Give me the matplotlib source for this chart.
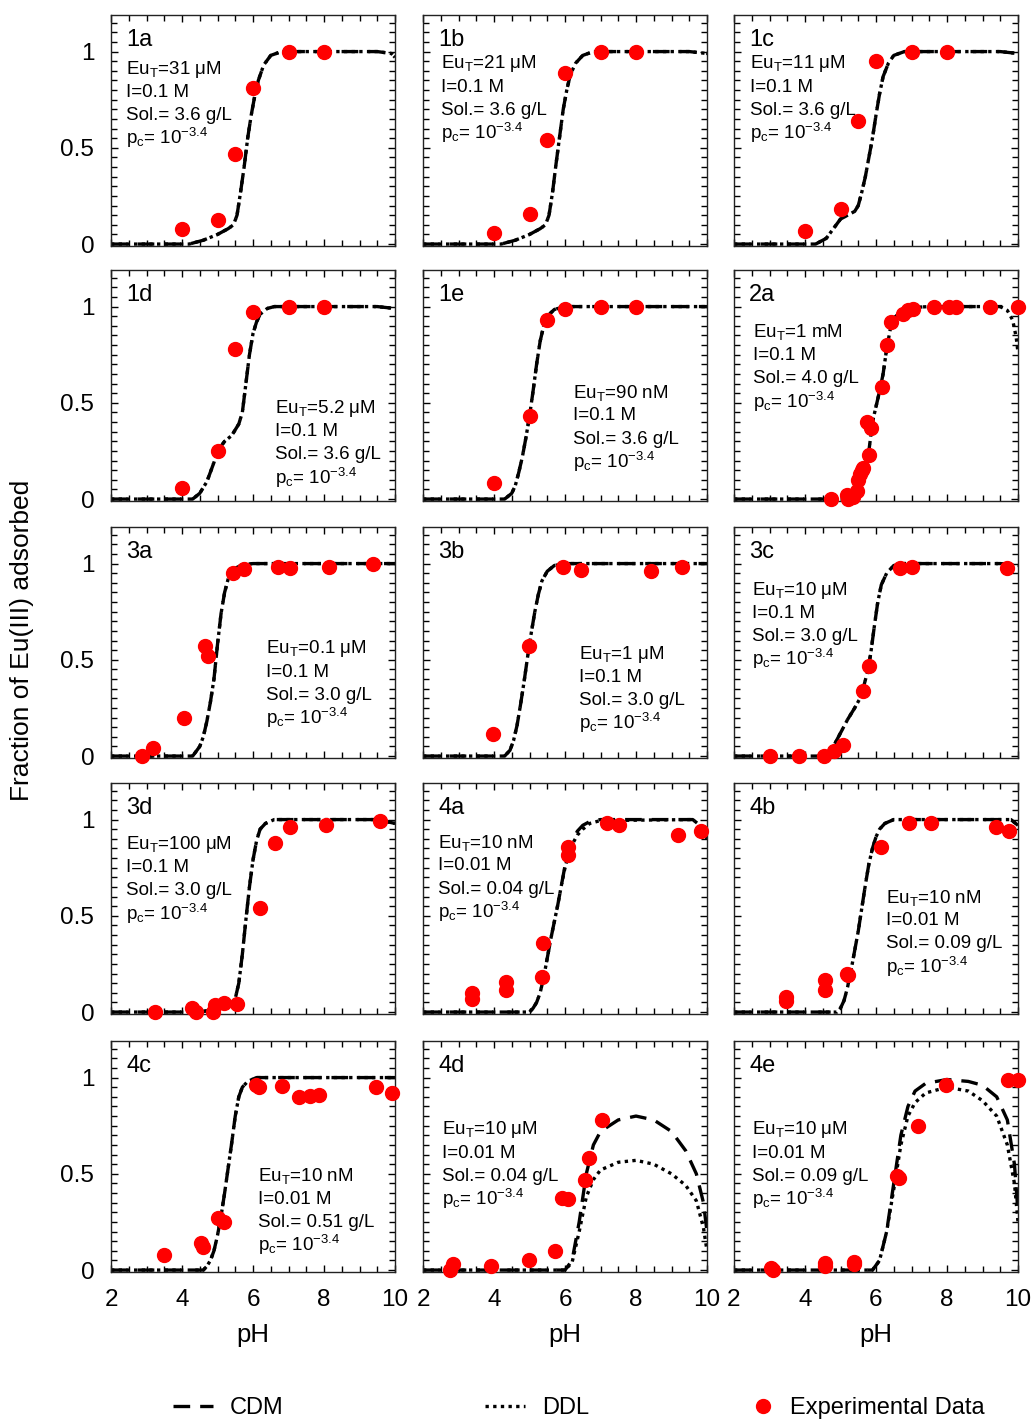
import numpy as np
import matplotlib
matplotlib.use("Agg")
import matplotlib.pyplot as plt
from matplotlib.ticker import MultipleLocator
from matplotlib.lines import Line2D

plt.rcParams['font.family'] = ['Liberation Sans', 'DejaVu Sans']
plt.rcParams['mathtext.default'] = 'regular'

panels = ['1a', '1b', '1c', '1d', '1e', '2a', '3a', '3b', '3c', '3d',
          '4a', '4b', '4c', '4d', '4e']

# experimental data (pH, fraction adsorbed)
exp_ph = {
    '1a': [4.0, 5.0, 5.5, 6.0, 7.0, 8.0],
    '1b': [4.0, 5.0, 5.5, 6.0, 7.0, 8.0],
    '1c': [4.0, 5.0, 5.5, 6.0, 7.0, 8.0],
    '1d': [4.0, 5.0, 5.5, 6.0, 7.0, 8.0],
    '1e': [4.0, 5.0, 5.5, 6.0, 7.0, 8.0],
    '2a': [4.72, 5.17, 5.22, 5.36, 5.46, 5.5, 5.55, 5.6, 5.64, 5.74, 5.79, 5.85,
           6.18, 6.3, 6.43, 6.75, 6.9, 7.05, 7.64, 8.07, 8.25, 9.21, 10.0],
    '3a': [2.86, 3.19, 4.06, 4.65, 4.74, 5.45, 5.75, 6.71, 7.04, 8.14, 9.37],
    '3b': [3.98, 4.99, 5.95, 6.44, 8.42, 9.29],
    '3c': [3.0, 3.84, 4.54, 4.82, 5.08, 5.62, 5.8, 6.68, 7.0, 9.68],
    '3d': [3.24, 4.27, 4.39, 4.86, 4.93, 5.19, 5.56, 6.2, 6.62, 7.04, 8.05, 9.58],
    '4a': [3.37, 3.37, 4.33, 4.33, 5.34, 5.39, 6.09, 6.09, 7.19, 7.53, 9.17, 9.83],
    '4b': [3.46, 3.46, 4.56, 4.56, 5.19, 5.22, 6.13, 6.93, 7.55, 9.38, 9.75],
    '4c': [3.49, 4.54, 4.59, 5.01, 5.18, 6.08, 6.17, 6.82, 7.3, 7.61, 7.86, 9.46, 9.92],
    '4d': [2.75, 2.85, 3.92, 4.99, 5.72, 5.92, 6.08, 6.56, 6.68, 7.04],
    '4e': [3.04, 3.1, 4.56, 4.56, 5.38, 5.38, 6.59, 6.65, 7.18, 7.97, 9.72, 10.0],
}
exp_frac = {
    '1a': [0.08, 0.125, 0.47, 0.81, 1.0, 1.0],
    '1b': [0.056, 0.155, 0.54, 0.89, 1.0, 1.0],
    '1c': [0.07, 0.18, 0.64, 0.95, 1.0, 1.0],
    '1d': [0.057, 0.25, 0.78, 0.97, 1.0, 1.0],
    '1e': [0.085, 0.43, 0.93, 0.99, 1.0, 1.0],
    '2a': [0.0, 0.02, 0.0, 0.01, 0.04, 0.1, 0.13, 0.15, 0.16, 0.4, 0.23, 0.37,
           0.58, 0.8, 0.92, 0.96, 0.98, 0.99, 1.0, 1.0, 1.0, 1.0, 1.0],
    '3a': [0.0, 0.04, 0.2, 0.57, 0.52, 0.95, 0.97, 0.98, 0.975, 0.98, 1.0],
    '3b': [0.115, 0.57, 0.98, 0.965, 0.96, 0.98],
    '3c': [0.0, 0.0, 0.0, 0.025, 0.06, 0.34, 0.47, 0.975, 0.98, 0.975],
    '3d': [0.0, 0.02, 0.0, 0.0, 0.035, 0.045, 0.04, 0.54, 0.88, 0.96, 0.97, 0.99],
    '4a': [0.099, 0.07, 0.155, 0.115, 0.18, 0.36, 0.86, 0.815, 0.98, 0.97, 0.92, 0.94],
    '4b': [0.078, 0.055, 0.165, 0.115, 0.2, 0.19, 0.86, 0.98, 0.98, 0.96, 0.94],
    '4c': [0.078, 0.14, 0.12, 0.27, 0.25, 0.96, 0.95, 0.955, 0.9, 0.905, 0.91, 0.95, 0.92],
    '4d': [0.0, 0.03, 0.02, 0.05, 0.1, 0.375, 0.37, 0.47, 0.58, 0.78],
    '4e': [0.01, 0.0, 0.035, 0.02, 0.04, 0.03, 0.49, 0.48, 0.75, 0.96, 0.985, 0.985],
}

# CDM model curves
cdm_ph = {
    '1a': [2, 4.2, 4.6, 5.0, 5.3, 5.45, 5.55, 5.65, 5.75, 5.85, 5.95, 6.05, 6.15, 6.3, 6.5, 6.8, 7.5, 9.5, 9.9, 10],
    '1b': [2, 4.2, 4.6, 5.0, 5.3, 5.45, 5.55, 5.65, 5.75, 5.85, 5.95, 6.05, 6.15, 6.3, 6.5, 6.8, 7.5, 9.5, 10],
    '1c': [2, 4.3, 4.6, 4.8, 5.0, 5.2, 5.4, 5.5, 5.6, 5.7, 5.8, 5.9, 6.0, 6.1, 6.2, 6.35, 6.5, 6.8, 7.5, 9.5, 10],
    '1d': [2, 4.3, 4.5, 4.7, 4.9, 5.0, 5.2, 5.4, 5.6, 5.7, 5.8, 5.9, 6.0, 6.1, 6.2, 6.4, 6.6, 7.5, 9.5, 10],
    '1e': [2, 4.3, 4.5, 4.6, 4.7, 4.8, 4.9, 5.0, 5.1, 5.2, 5.3, 5.4, 5.5, 5.7, 6.0, 10],
    '2a': [2, 5.2, 5.4, 5.5, 5.6, 5.7, 5.8, 5.9, 6.0, 6.1, 6.2, 6.3, 6.4, 6.5, 6.7, 7.0, 7.5, 9.5, 10],
    '3a': [2, 4.3, 4.5, 4.6, 4.7, 4.8, 4.9, 5.0, 5.1, 5.2, 5.3, 5.45, 5.7, 6.0, 10],
    '3b': [2, 4.3, 4.45, 4.55, 4.65, 4.75, 4.85, 4.95, 5.05, 5.15, 5.25, 5.35, 5.5, 5.7, 6.0, 10],
    '3c': [2, 4.5, 4.7, 4.8, 5.0, 5.2, 5.4, 5.55, 5.65, 5.75, 5.85, 5.95, 6.05, 6.15, 6.3, 6.5, 6.8, 9.5, 10],
    '3d': [2, 4.5, 4.8, 5.1, 5.4, 5.5, 5.6, 5.7, 5.8, 5.9, 6.0, 6.1, 6.2, 6.35, 6.6, 9.5, 10],
    '4a': [2, 5.0, 5.1, 5.2, 5.3, 5.4, 5.5, 5.6, 5.7, 5.8, 5.9, 6.0, 6.1, 6.2, 6.35, 6.5, 6.7, 7.0, 9.6, 9.8, 9.9, 10],
    '4b': [2, 4.9, 5.0, 5.1, 5.2, 5.3, 5.4, 5.5, 5.6, 5.7, 5.8, 5.9, 6.0, 6.1, 6.25, 6.5, 9.8, 10],
    '4c': [2, 4.6, 4.7, 4.8, 4.9, 5.0, 5.1, 5.2, 5.3, 5.4, 5.5, 5.6, 5.7, 5.85, 6.1, 10],
    '4d': [2, 6.0, 6.2, 6.4, 6.6, 6.8, 7.0, 7.5, 8.0, 8.5, 9.0, 9.4, 9.7, 9.9, 10],
    '4e': [2, 5.9, 6.1, 6.3, 6.5, 6.7, 6.9, 7.1, 7.4, 8.0, 8.6, 9.0, 9.4, 9.7, 9.9, 10],
}
cdm_frac = {
    '1a': [0, 0, 0.02, 0.05, 0.08, 0.1, 0.15, 0.27, 0.4, 0.55, 0.67, 0.77, 0.85, 0.93, 0.98, 1, 1, 1, 0.99, 0.97],
    '1b': [0, 0, 0.02, 0.05, 0.08, 0.1, 0.15, 0.27, 0.42, 0.56, 0.7, 0.8, 0.88, 0.94, 0.98, 1, 1, 1, 0.99],
    '1c': [0, 0, 0.03, 0.08, 0.13, 0.15, 0.17, 0.2, 0.27, 0.35, 0.45, 0.55, 0.67, 0.78, 0.87, 0.94, 0.98, 1, 1, 1, 0.99],
    '1d': [0, 0, 0.03, 0.09, 0.19, 0.25, 0.3, 0.33, 0.39, 0.45, 0.6, 0.75, 0.86, 0.92, 0.96, 0.99, 1, 1, 1, 0.99],
    '1e': [0, 0, 0.03, 0.07, 0.14, 0.22, 0.32, 0.43, 0.56, 0.7, 0.82, 0.9, 0.95, 0.985, 1, 1],
    '2a': [0, 0, 0.01, 0.04, 0.09, 0.16, 0.25, 0.4, 0.48, 0.56, 0.65, 0.78, 0.88, 0.94, 0.97, 0.995, 1, 1, 1],
    '3a': [0, 0, 0.05, 0.1, 0.18, 0.28, 0.4, 0.58, 0.74, 0.85, 0.92, 0.97, 0.995, 1, 1],
    '3b': [0, 0, 0.03, 0.08, 0.16, 0.27, 0.39, 0.52, 0.64, 0.75, 0.84, 0.91, 0.96, 0.99, 1, 1],
    '3c': [0, 0, 0.02, 0.05, 0.12, 0.19, 0.25, 0.3, 0.36, 0.43, 0.53, 0.67, 0.8, 0.89, 0.95, 0.99, 1, 1, 0.99],
    '3d': [0, 0, 0.01, 0.02, 0.04, 0.07, 0.15, 0.3, 0.48, 0.65, 0.79, 0.89, 0.95, 0.98, 1, 1, 0.98],
    '4a': [0, 0, 0.02, 0.05, 0.1, 0.18, 0.28, 0.38, 0.47, 0.56, 0.66, 0.76, 0.84, 0.89, 0.94, 0.97, 0.99, 1, 1, 0.97, 0.94, 0.9],
    '4b': [0, 0, 0.02, 0.06, 0.13, 0.22, 0.32, 0.42, 0.54, 0.66, 0.77, 0.85, 0.91, 0.95, 0.98, 1, 1, 0.97],
    '4c': [0, 0, 0.02, 0.05, 0.1, 0.18, 0.28, 0.4, 0.53, 0.66, 0.8, 0.9, 0.95, 0.98, 1, 1],
    '4d': [0, 0, 0.05, 0.25, 0.5, 0.65, 0.72, 0.78, 0.8, 0.78, 0.72, 0.62, 0.5, 0.35, 0.2],
    '4e': [0, 0, 0.05, 0.2, 0.45, 0.7, 0.85, 0.93, 0.97, 0.99, 0.98, 0.96, 0.9, 0.78, 0.55, 0.3],
}

# DDL model curves (where they differ from CDM)
ddl_ph = {
    '2a': [2, 5.2, 5.4, 5.5, 5.6, 5.7, 5.8, 5.9, 6.0, 6.1, 6.2, 6.3, 6.4, 6.5, 6.7, 7.0, 7.5, 9.5, 9.7, 9.85, 9.95, 10],
    '4a': [2, 5.0, 5.1, 5.2, 5.3, 5.4, 5.5, 5.6, 5.7, 5.8, 5.9, 6.0, 6.1, 6.2, 6.35, 6.5, 6.7, 7.0, 9.6, 9.8, 9.9, 10],
    '4d': [2, 6.0, 6.2, 6.4, 6.6, 6.8, 7.0, 7.5, 8.0, 8.5, 9.0, 9.4, 9.7, 9.9, 10],
    '4e': [2, 5.9, 6.1, 6.3, 6.5, 6.7, 6.9, 7.1, 7.4, 8.0, 8.6, 9.0, 9.4, 9.7, 9.9, 10],
}
ddl_frac = {
    '2a': [0, 0, 0.01, 0.04, 0.09, 0.16, 0.25, 0.4, 0.48, 0.56, 0.65, 0.78, 0.88, 0.94, 0.97, 0.995, 1, 1, 0.98, 0.93, 0.84, 0.76],
    '4a': [0, 0, 0.02, 0.05, 0.1, 0.18, 0.28, 0.38, 0.47, 0.56, 0.66, 0.75, 0.82, 0.87, 0.92, 0.95, 0.98, 0.995, 1, 0.97, 0.94, 0.9],
    '4d': [0, 0, 0.04, 0.2, 0.38, 0.47, 0.52, 0.56, 0.57, 0.55, 0.5, 0.44, 0.36, 0.22, 0.1],
    '4e': [0, 0, 0.05, 0.2, 0.42, 0.65, 0.8, 0.87, 0.92, 0.95, 0.93, 0.88, 0.8, 0.65, 0.45, 0.25],
}

# experimental conditions: Eu total, ionic strength, solid conc.
eu_tot = ['31 μM', '21 μM', '11 μM', '5.2 μM', '90 nM', '1 mM', '0.1 μM', '1 μM',
          '10 μM', '100 μM', '10 nM', '10 nM', '10 nM', '10 μM', '10 μM']
ionic = ['0.1', '0.1', '0.1', '0.1', '0.1', '0.1', '0.1', '0.1', '0.1', '0.1',
         '0.01', '0.01', '0.01', '0.01', '0.01']
solid = ['3.6', '3.6', '3.6', '3.6', '3.6', '4.0', '3.0', '3.0', '3.0', '3.0',
         '0.04', '0.09', '0.51', '0.04', '0.09']
# where the condition block sits (axes fraction, first line)
text_pos = [(0.053, 0.766), (0.063, 0.788), (0.055, 0.788), (0.577, 0.40), (0.528, 0.468),
            (0.067, 0.73), (0.546, 0.472), (0.549, 0.45), (0.063, 0.727), (0.053, 0.733),
            (0.053, 0.741), (0.535, 0.504), (0.518, 0.416), (0.067, 0.615), (0.063, 0.615)]

W, H = 1035, 1422
fig = plt.figure(figsize=(W / 100, H / 100), dpi=100)

col_left = [111, 423, 734]
row_top = [15, 270, 527, 783, 1041]
ax_w, ax_h = 284, 231

for i, p in enumerate(panels):
    r, c = divmod(i, 3)
    ax = fig.add_axes([col_left[c] / W, 1 - (row_top[r] + ax_h) / H, ax_w / W, ax_h / H])

    ax.plot(cdm_ph[p], cdm_frac[p], color='black', lw=2.4, ls=(0, (5, 3)))
    ax.plot(ddl_ph.get(p, cdm_ph[p]), ddl_frac.get(p, cdm_frac[p]),
            color='black', lw=2.4, ls=(0, (1, 1.3)))
    ax.plot(exp_ph[p], exp_frac[p], 'o', color='red', ms=10, mec='red',
            clip_on=False, zorder=5)

    ax.set_xlim(2, 10)
    ax.set_ylim(-0.01, 1.19)
    ax.xaxis.set_major_locator(MultipleLocator(2))
    ax.xaxis.set_minor_locator(MultipleLocator(0.5))
    ax.yaxis.set_major_locator(MultipleLocator(0.5))
    ax.yaxis.set_minor_locator(MultipleLocator(0.05))
    ax.tick_params(which='both', direction='in', top=True, right=True, labelsize=17.5)
    ax.tick_params(which='major', length=5, width=1)
    ax.tick_params(which='minor', length=4, width=1)
    ax.tick_params(axis='x', which='major', pad=12)
    ax.tick_params(axis='y', which='major', pad=12)
    ax.set_yticks([0, 0.5, 1])
    ax.set_yticklabels(['0', '0.5', '1'])
    if c != 0:
        ax.tick_params(labelleft=False)
    if r != 4:
        ax.tick_params(labelbottom=False)
    else:
        ax.set_xlabel('pH', fontsize=18.5, labelpad=9)
    for s in ax.spines.values():
        s.set_linewidth(1.0)
        s.set_color('#222222')

    ax.text(0.053, 0.89, p, transform=ax.transAxes, fontsize=17, va='center', ha='left')
    tx, ty = text_pos[i]
    lines = ['Eu$_\\mathregular{T}$=' + eu_tot[i],
             'I=' + ionic[i] + ' M',
             'Sol.= ' + solid[i] + ' g/L',
             'p$_\\mathregular{c}$= 10$^\\mathregular{-3.4}$']
    for k, t in enumerate(lines):
        ax.text(tx, ty - 0.1 * k, t, transform=ax.transAxes, fontsize=13.5,
                va='center', ha='left')

fig.text(0.021, 1 - 640 / H, 'Fraction of Eu(III) adsorbed', rotation=90,
         fontsize=19, va='center', ha='center')

# legend, three separate entries across the bottom
leg_items = [
    (Line2D([], [], color='black', lw=2.4, ls=(0, (5, 3))), 'CDM', 173, 1.7),
    (Line2D([], [], color='black', lw=2.4, ls=(0, (1, 1.3))), 'DDL', 485, 1.7),
    (Line2D([], [], color='red', marker='o', ls='none', ms=10), 'Experimental Data', 752, 0.9),
]
for h, lab, xp, hl in leg_items:
    fig.legend(handles=[h], labels=[lab], loc='center left',
               bbox_to_anchor=(xp / W, 1 - 1408 / H), frameon=False,
               fontsize=17, handlelength=hl, handletextpad=0.72,
               borderpad=0, borderaxespad=0)

fig.savefig('out.png', dpi=100)
